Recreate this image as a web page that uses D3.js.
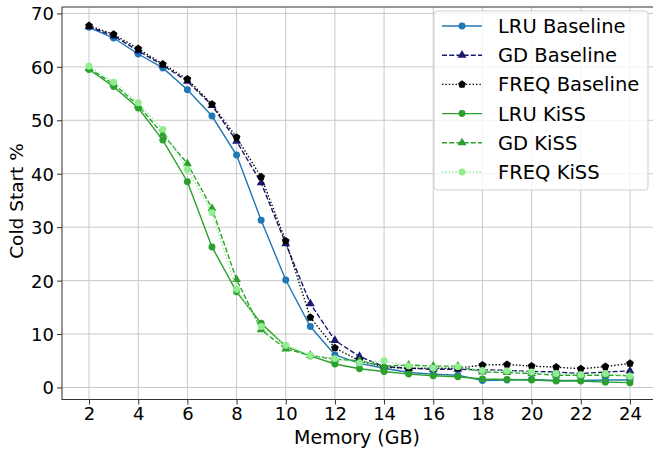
<!DOCTYPE html>
<html>
<head>
<meta charset="utf-8">
<script src="https://cdn.jsdelivr.net/npm/d3@7"></script>
<style>
    body { margin: 0; background: #fff; }
    svg { display: block; overflow: hidden; }
    text { font-family: "DejaVu Sans", sans-serif; fill: #000; }
</style>
</head>
<body>
<div id="chart"></div>
<script>
// memory sizes (GB)
const memory = [2, 3, 4, 5, 6, 7, 8, 9, 10, 11, 12, 13, 14, 15, 16, 17, 18, 19, 20, 21, 22, 23, 24];

// cold start % per policy
const lruBaseline = [67.4, 65.4, 62.4, 59.8, 55.7, 50.8, 43.5, 31.3, 20.1, 11.4, 6.1, 4.5, 3.6, 2.8, 2.5, 2.3, 1.3, 1.4, 1.5, 1.3, 1.3, 1.4, 1.4];
const gdBaseline = [67.5, 65.8, 63.0, 60.3, 57.3, 52.8, 46.1, 38.3, 26.9, 15.7, 8.8, 5.8, 3.9, 3.6, 3.4, 3.4, 3.3, 3.2, 3.0, 2.9, 2.6, 2.9, 3.1];
const freqBaseline = [67.7, 66.1, 63.4, 60.5, 57.7, 53.0, 46.8, 39.4, 27.4, 13.1, 7.4, 5.0, 3.8, 3.6, 3.6, 3.6, 4.2, 4.3, 4.0, 3.8, 3.5, 3.9, 4.5];
const lruKiss = [59.5, 56.3, 52.3, 46.3, 38.5, 26.3, 17.9, 12.0, 7.7, 5.9, 4.4, 3.5, 3.0, 2.5, 2.2, 2.0, 1.6, 1.5, 1.4, 1.2, 1.2, 1.0, 0.9];
const gdKiss = [59.7, 56.8, 52.8, 47.4, 41.9, 33.5, 20.2, 10.8, 7.2, 6.0, 5.3, 5.0, 4.0, 4.2, 4.0, 4.0, 2.9, 2.8, 2.6, 2.3, 2.3, 2.3, 2.2];
const freqKiss = [60.1, 57.1, 53.3, 48.3, 40.8, 32.7, 18.4, 11.4, 7.9, 6.0, 5.4, 4.6, 5.0, 4.0, 3.6, 3.9, 3.2, 3.1, 2.9, 2.6, 2.4, 2.6, 2.1];

const xTicks = [2, 4, 6, 8, 10, 12, 14, 16, 18, 20, 22, 24];
const yTicks = [0, 10, 20, 30, 40, 50, 60, 70];

// pentagon marker for FREQ Baseline
const symbolPentagon = {
    draw(context, size) {
        const r = Math.sqrt(size / 2.38);
        for (let i = 0; i < 5; i++) {
            const a = -Math.PI / 2 + i * 2 * Math.PI / 5;
            const px = r * Math.cos(a), py = r * Math.sin(a);
            if (i === 0) context.moveTo(px, py); else context.lineTo(px, py);
        }
        context.closePath();
    }
};

const series = [
    { name: "LRU Baseline", values: lruBaseline, color: "#1f77b4", dash: null, marker: d3.symbolCircle, size: 38 },
    { name: "GD Baseline", values: gdBaseline, color: "#191970", dash: "5,2.2", marker: d3.symbolTriangle, size: 34 },
    { name: "FREQ Baseline", values: freqBaseline, color: "#000000", dash: "1.4,2", marker: symbolPentagon, size: 40 },
    { name: "LRU KiSS", values: lruKiss, color: "#2ca02c", dash: null, marker: d3.symbolCircle, size: 38 },
    { name: "GD KiSS", values: gdKiss, color: "#2ca02c", dash: "5,2.2", marker: d3.symbolTriangle, size: 34 },
    { name: "FREQ KiSS", values: freqKiss, color: "#90ee90", dash: "1.4,2", marker: d3.symbolCircle, size: 38 }
];

const width = 653, height = 451;
const plot = { left: 62, right: 657, top: 7, bottom: 399.5 };

const svg = d3.select("#chart")
    .append("svg")
    .attr("width", width)
    .attr("height", height);

const x = d3.scaleLinear()
    .domain([0.9, 25.1])
    .range([plot.left, plot.right]);
const y = d3.scaleLinear()
    .domain([-2.25, 71.2])
    .range([plot.bottom, plot.top]);

// grid
const grid = svg.append("g");
grid.selectAll(".vgrid")
    .data(xTicks)
    .join("line")
    .attr("class", "vgrid")
    .attr("x1", d => x(d)).attr("x2", d => x(d))
    .attr("y1", plot.top).attr("y2", plot.bottom)
    .attr("stroke", "#c8c8c8")
    .attr("stroke-width", 1);
grid.selectAll(".hgrid")
    .data(yTicks)
    .join("line")
    .attr("class", "hgrid")
    .attr("x1", plot.left).attr("x2", plot.right)
    .attr("y1", d => y(d)).attr("y2", d => y(d))
    .attr("stroke", "#c8c8c8")
    .attr("stroke-width", 1);

// axes
const xAxis = d3.axisBottom(x).tickValues(xTicks).tickSize(5).tickPadding(3);
const yAxis = d3.axisLeft(y).tickValues(yTicks).tickSize(5).tickPadding(3);

const gx = svg.append("g")
    .attr("transform", `translate(0,${plot.bottom})`)
    .call(xAxis);
const gy = svg.append("g")
    .attr("transform", `translate(${plot.left},0)`)
    .call(yAxis);
[gx, gy].forEach(g => {
    g.select(".domain").remove();
    g.selectAll("line").attr("stroke", "#333");
    g.selectAll("text")
        .attr("fill", "#000")
        .style("font-size", "18px")
        .style("font-family", "'DejaVu Sans', sans-serif");
});
gy.selectAll("text").attr("dy", "0.36em");

// frame
svg.append("rect")
    .attr("x", plot.left)
    .attr("y", plot.top)
    .attr("width", plot.right - plot.left)
    .attr("height", plot.bottom - plot.top)
    .attr("fill", "none")
    .attr("stroke", "#333")
    .attr("stroke-width", 1);

// axis labels
svg.append("text")
    .attr("text-anchor", "middle")
    .attr("x", (plot.left + 652) / 2)
    .attr("y", 444)
    .style("font-size", "19px")
    .text("Memory (GB)");
svg.append("text")
    .attr("text-anchor", "middle")
    .attr("transform", "translate(23,201) rotate(-90)")
    .style("font-size", "18.5px")
    .text("Cold Start %");

// lines and markers
const line = d3.line()
    .x((d, i) => x(memory[i]))
    .y(d => y(d));

const marks = svg.append("g");
series.forEach(s => {
    const g = marks.append("g");
    g.append("path")
        .datum(s.values)
        .attr("d", line)
        .attr("fill", "none")
        .attr("stroke", s.color)
        .attr("stroke-width", 1.4)
        .attr("stroke-dasharray", s.dash);
    g.selectAll(".pt")
        .data(s.values)
        .join("path")
        .attr("class", "pt")
        .attr("transform", (d, i) => `translate(${x(memory[i])},${y(d)})`)
        .attr("d", d3.symbol().type(s.marker).size(s.size))
        .attr("fill", s.color);
});

// legend
const legend = svg.append("g");
legend.append("rect")
    .attr("x", 434)
    .attr("y", 11)
    .attr("width", 214)
    .attr("height", 179)
    .attr("rx", 3)
    .attr("fill", "#fff")
    .attr("fill-opacity", 0.8)
    .attr("stroke", "#d0d0d0")
    .attr("stroke-width", 1);

const rows = legend.selectAll(".row")
    .data(series)
    .join("g")
    .attr("class", "row")
    .attr("transform", (d, i) => `translate(0,${26 + i * 29.2})`);
rows.append("line")
    .attr("x1", 442).attr("x2", 482)
    .attr("y1", 0).attr("y2", 0)
    .attr("stroke", d => d.color)
    .attr("stroke-width", 1.4)
    .attr("stroke-dasharray", d => d.dash);
rows.append("path")
    .attr("transform", "translate(462,0)")
    .attr("d", d => d3.symbol().type(d.marker).size(d.size)())
    .attr("fill", d => d.color);
rows.append("text")
    .attr("x", 498)
    .attr("y", 7)
    .style("font-size", "19.5px")
    .text(d => d.name);
</script>
</body>
</html>
